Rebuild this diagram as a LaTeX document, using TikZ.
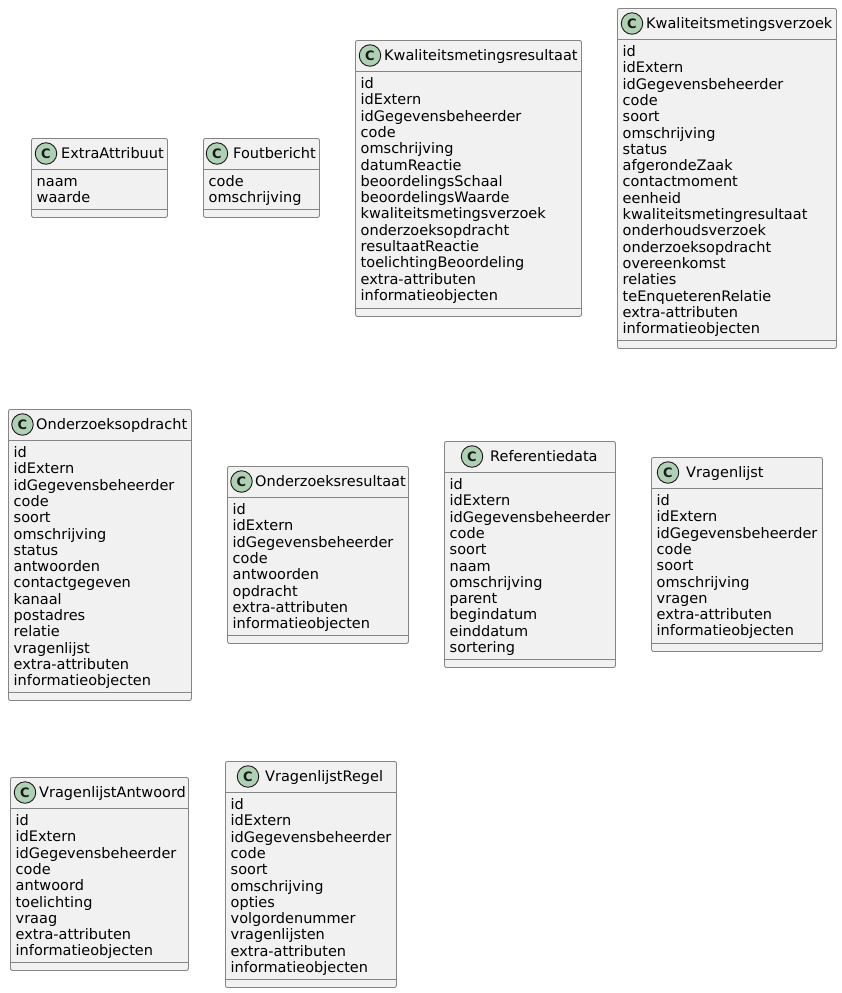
\documentclass[tikz,border=0pt]{standalone}
\usepackage{fontspec}
\setmainfont{DejaVu Sans}
\usepackage{xcolor}
\definecolor{boxfill}{HTML}{F1F1F1}
\definecolor{boxline}{HTML}{858585}
\definecolor{spot}{HTML}{ADD1B2}
\definecolor{ink}{HTML}{181818}

% name, left, top, right, bottom, circle x, title x, attributes
\newcommand{\umlclass}[8]{%
  \pgfmathsetmacro{\bw}{#4-#2}%
  \pgfmathsetmacro{\bh}{#5-#3}%
  \pgfmathsetmacro{\topsep}{#3+31}%
  \pgfmathsetmacro{\botsep}{#5-8}%
  \pgfmathsetmacro{\spoty}{#3+15.5}%
  \pgfmathsetmacro{\titley}{#3+20}%
  \pgfmathsetmacro{\rowy}{#3+36.3}%
  \pgfmathsetmacro{\rowx}{#2+5.5}%
  \node[classbox, minimum width=\bw pt, minimum height=\bh pt] (#1) at (#2,#3) {};
  \draw[sepline] (#1.west |- 0,\topsep) -- (#1.east |- 0,\topsep);
  \draw[sepline] (#1.west |- 0,\botsep) -- (#1.east |- 0,\botsep);
  \node[spotc] (#1-spot) at (#6,\spoty) {C};
  \node[title] (#1-title) at (#7,\titley) {#1};
  \node[rows] (#1-rows) at (\rowx,\rowy) {\rule{0pt}{12pt}#8};
}

\begin{document}
\begin{tikzpicture}[
  x=1pt, y=-1pt,
  classbox/.style={rectangle, draw=boxline, fill=boxfill, rounded corners=2pt,
                   line width=0.9pt, anchor=north west, inner sep=0pt},
  sepline/.style={draw=boxline, line width=0.9pt},
  spotc/.style={circle, draw=ink, fill=spot, line width=0.9pt, minimum size=21.5pt,
                inner sep=0pt, text=ink, font=\fontsize{13}{13}\selectfont\bfseries},
  title/.style={anchor=base west, inner sep=0pt, font=\fontsize{14.5}{16.3}\selectfont},
  rows/.style={anchor=north west, inner sep=0pt, align=left,
               font=\fontsize{14.5}{16.3}\selectfont}
]
\useasboundingbox (0,0) rectangle (842,993);

\umlclass{ExtraAttribuut}{31}{138}{167}{217}{46}{61}
  {naam\\waarde}
\umlclass{Foutbericht}{203}{138}{319}{217}{217}{233}
  {code\\omschrijving}
\umlclass{Kwaliteitsmetingsresultaat}{355}{40}{581}{316}{370}{384}
  {id\\idExtern\\idGegevensbeheerder\\code\\omschrijving\\datumReactie\\beoordelingsSchaal\\beoordelingsWaarde\\kwaliteitsmetingsverzoek\\onderzoeksopdracht\\resultaatReactie\\toelichtingBeoordeling\\extra-attributen\\informatieobjecten}
\umlclass{Kwaliteitsmetingsverzoek}{617}{8}{836}{348}{632}{646}
  {id\\idExtern\\idGegevensbeheerder\\code\\soort\\omschrijving\\status\\afgerondeZaak\\contactmoment\\eenheid\\kwaliteitsmetingresultaat\\onderhoudsverzoek\\onderzoeksopdracht\\overeenkomst\\relaties\\teEnqueterenRelatie\\extra-attributen\\informatieobjecten}

\umlclass{Onderzoeksopdracht}{8}{409}{191}{700}{22.5}{36}
  {id\\idExtern\\idGegevensbeheerder\\code\\soort\\omschrijving\\status\\antwoorden\\contactgegeven\\kanaal\\postadres\\relatie\\vragenlijst\\extra-attributen\\informatieobjecten}
\umlclass{Onderzoeksresultaat}{227}{466}{408}{643}{241.5}{255}
  {id\\idExtern\\idGegevensbeheerder\\code\\antwoorden\\opdracht\\extra-attributen\\informatieobjecten}
\umlclass{Referentiedata}{444}{441}{615}{667}{472}{490}
  {id\\idExtern\\idGegevensbeheerder\\code\\soort\\naam\\omschrijving\\parent\\begindatum\\einddatum\\sortering}
\umlclass{Vragenlijst}{651}{457}{822}{651}{668}{686}
  {id\\idExtern\\idGegevensbeheerder\\code\\soort\\omschrijving\\vragen\\extra-attributen\\informatieobjecten}

\umlclass{VragenlijstAntwoord}{10}{777}{188}{970}{25}{39}
  {id\\idExtern\\idGegevensbeheerder\\code\\antwoord\\toelichting\\vraag\\extra-attributen\\informatieobjecten}
\umlclass{VragenlijstRegel}{225}{761}{396}{987}{248}{265}
  {id\\idExtern\\idGegevensbeheerder\\code\\soort\\omschrijving\\opties\\volgordenummer\\vragenlijsten\\extra-attributen\\informatieobjecten}
\end{tikzpicture}
\end{document}
